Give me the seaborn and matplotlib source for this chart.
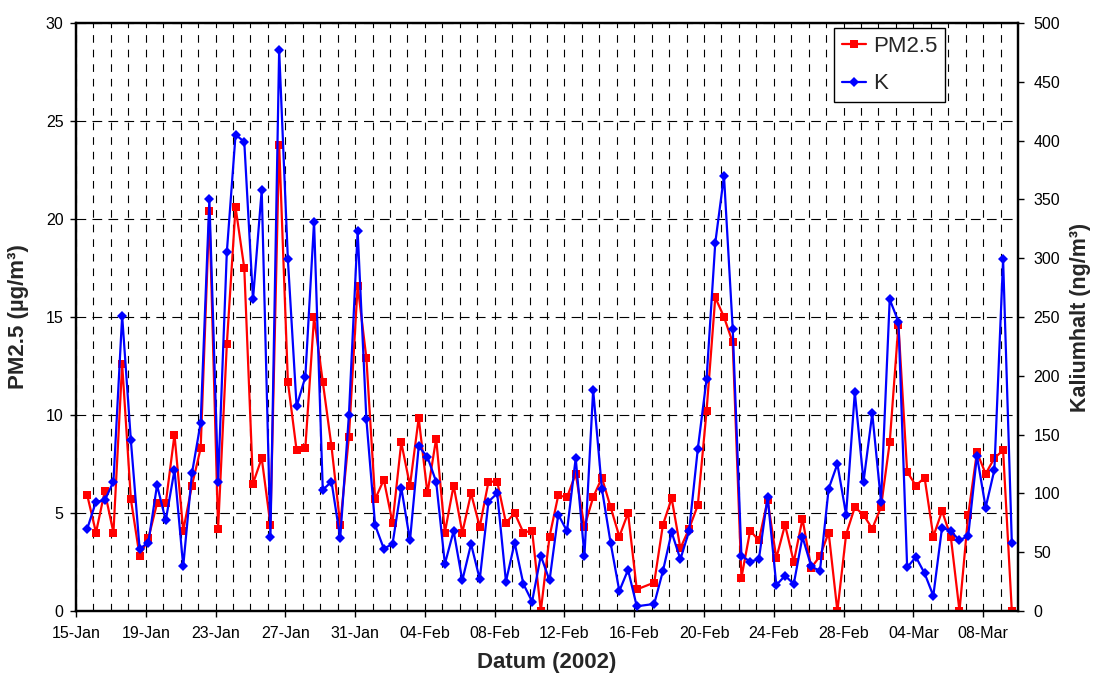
import numpy as np
import pandas as pd
import matplotlib
matplotlib.use("Agg")
import matplotlib.pyplot as plt
import matplotlib.dates as mdates
import seaborn as sns

# ---------------- data ----------------
pm25 = [5.9, 4.0, 6.1, 4.0, 12.6, 5.7, 2.8, 3.7, 5.5, 5.5,
        9.0, 4.1, 6.4, 8.3, 20.4, 4.2, 13.6, 20.6, 17.5, 6.5,
        7.8, 4.4, 23.8, 11.7, 8.2, 8.3, 15.0, 11.7, 8.4, 4.4,
        8.9, 16.6, 12.9, 5.7, 6.7, 4.5, 8.6, 6.4, 9.85, 6.0,
        8.8, 4.0, 6.4, 4.0, 6.0, 4.3, 6.6, 6.6, 4.5, 5.0,
        4.0, 4.1, 0.0, 3.8, 5.9, 5.8, 7.0, 4.3, 5.8, 6.8,
        5.3, 3.8, 5.0, 1.1, np.nan, 1.45, 4.4, 5.75, 3.2, 4.2,
        5.4, 10.2, 16.0, 15.0, 13.7, 1.7, 4.1, 3.6, 5.65, 2.7,
        4.4, 2.5, 4.7, 2.2, 2.8, 4.0, 0.0, 3.9, 5.3, 4.9,
        4.2, 5.3, 8.6, 14.6, 7.1, 6.4, 6.8, 3.8, 5.1, 3.8,
        0.0, 4.9, 8.1, 7.0, 7.8, 8.2, 0.0]

kalium = [70, 93, 94, 110, 251, 145, 53, 58, 107, 77,
          120, 38, 117, 160, 350, 110, 305, 405, 399, 265,
          358, 63, 477, 299, 174, 199, 331, 103, 110, 62,
          167, 323, 163, 73, 53, 57, 105, 60, 140, 131,
          110, 40, 68, 26, 57, 27, 93, 100, 25, 58,
          23, 8, 47, 26, 82, 68, 130, 47, 188, 104,
          58, 17, 35, 4, np.nan, 6, 34, 67, 44, 68,
          138, 197, 313, 370, 240, 47, 42, 44, 97, 22,
          30, 23, 63, 38, 34, 104, 125, 82, 186, 110,
          168, 93, 265, 246, 37, 46, 32, 13, 71, 68,
          60, 64, 132, 88, 120, 299, 58]

sample_times = pd.date_range("2002-01-15 15:30", periods=len(pm25), freq="12h")
x_ticks = pd.date_range("2002-01-15", "2002-03-08", freq="4D")
x_start, x_end = pd.Timestamp("2002-01-15"), pd.Timestamp("2002-03-10")

df = pd.DataFrame({"Datum": sample_times, "PM2.5": pm25, "K": kalium})

# ---------------- style ----------------
sns.set_style("white")
plt.rcParams["font.family"] = ["Liberation Sans", "DejaVu Sans"]
plt.rcParams["lines.scale_dashes"] = False

fig = plt.figure(figsize=(10.93, 6.78), dpi=100)
ax = fig.add_axes([76 / 1093, 1 - 611 / 678, (1018 - 76) / 1093, (611 - 23) / 678])
ax2 = ax.twinx()

d1 = df[["Datum", "PM2.5"]].dropna()
d2 = df[["Datum", "K"]].dropna()

sns.lineplot(data=d1, x="Datum", y="PM2.5", ax=ax, color="#FF0000", lw=1.6,
             marker="s", markersize=5.5, markeredgewidth=0, label="PM2.5",
             legend=False, zorder=3)
sns.lineplot(data=d2, x="Datum", y="K", ax=ax2, color="#0000FF", lw=1.6,
             marker="D", markersize=5.5, markeredgewidth=0, label="K",
             legend=False, zorder=4)

# axes limits / ticks
ax.set_xlim(x_start, x_end)
ax.set_ylim(0, 30)
ax2.set_ylim(0, 500)
ax.set_yticks(np.arange(0, 31, 5))
ax2.set_yticks(np.arange(0, 501, 50))
ax.set_xticks(x_ticks)
ax.xaxis.set_major_formatter(mdates.DateFormatter("%d-%b"))
ax.xaxis.set_minor_locator(mdates.DayLocator())

# grid
ax.grid(False)
ax2.grid(False)
ax.grid(which="both", axis="x", color="black", lw=0.8, linestyle=(0, (5.5, 5)))
ax.grid(which="major", axis="y", color="black", lw=0.8, linestyle=(0, (7, 4.5)))
ax.set_axisbelow(True)

for a in (ax, ax2):
    for s in a.spines.values():
        s.set_color("black")
        s.set_linewidth(1.6)
        s.set_visible(True)

ax.tick_params(axis="both", which="major", direction="out", length=4, width=1,
               labelsize=11.5, pad=5, colors="black", left=True, bottom=True)
ax.tick_params(axis="x", which="minor", length=0)
ax.tick_params(axis="x", pad=7)
ax2.tick_params(axis="y", direction="out", length=4, width=1, labelsize=11.5,
                pad=7, colors="black", right=True)

ax.set_xlabel("Datum (2002)", fontsize=16, fontweight="bold", labelpad=8)
ax.set_ylabel("PM2.5 (µg/m³)", fontsize=16, fontweight="bold", labelpad=12)
ax2.set_ylabel("Kaliumhalt (ng/m³)", fontsize=15.5, fontweight="bold", labelpad=7)

h1, l1 = ax.get_legend_handles_labels()
h2, l2 = ax2.get_legend_handles_labels()
leg = ax2.legend(h1 + h2, l1 + l2, loc="upper right",
                 bbox_to_anchor=(0.9225, 0.9915), fontsize=16, frameon=True,
                 fancybox=False, edgecolor="black", framealpha=1,
                 handlelength=1.1, handletextpad=0.3, borderpad=0.35,
                 labelspacing=0.75, borderaxespad=0)
leg.get_frame().set_linewidth(1.0)

fig.savefig("out.png", dpi=100)
